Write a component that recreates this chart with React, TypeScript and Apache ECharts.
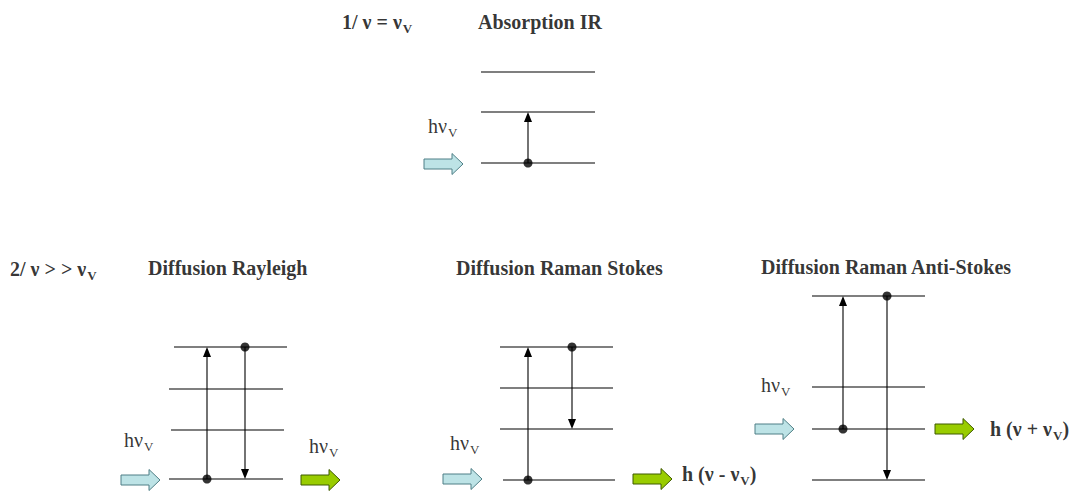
import React, { useEffect, useRef } from "react";
import * as echarts from "echarts";

// Energy levels: [xStart, xEnd, y]
const levels: number[][] = [
  [481, 595, 72], [481, 595, 112], [481, 595, 163],
  [174, 287, 347], [169, 283, 389], [171, 284, 430], [169, 283, 479],
  [500, 613, 347], [500, 613, 388], [500, 613, 429], [503, 615, 480],
  [812, 925, 296], [812, 925, 387], [812, 925, 429], [812, 925, 480],
];

// Transitions: [x, yFrom, yTo] (arrow head at yTo)
const transitions: number[][] = [
  [528, 163, 112],
  [207, 479, 347], [245, 347, 479],
  [528, 480, 347], [572, 347, 429],
  [843, 429, 296], [887, 296, 480],
];

// Dots (start of each transition): [x, y]
const dots: number[][] = [
  [528, 163],
  [207, 479], [245, 347],
  [528, 480], [572, 347],
  [843, 429], [887, 296],
];

// Photon block arrows: [xTail, yCenter, kind] kind 0 = incident, 1 = scattered
const photonArrows: number[][] = [
  [424, 164, 0],
  [121, 480, 0], [301, 480, 1],
  [443, 479, 0], [633, 479, 1],
  [755, 429, 0], [935, 429, 1],
];

// Labels: rich text strings and their anchor [xLeft, yCenter]
const labelTexts: string[] = [
  "{b|1/ ν = ν}{bs|V}",
  "{b|Absorption IR}",
  "{b|2/ ν > > ν}{bs|V}",
  "{b|Diffusion Rayleigh}",
  "{b|Diffusion Raman Stokes}",
  "{b|Diffusion Raman Anti-Stokes}",
  "{m|hν}{s|V}",
  "{m|hν}{s|V}",
  "{m|hν}{s|V}",
  "{m|hν}{s|V}",
  "{m|hν}{s|V}",
  "{b|h (ν - ν}{bs|V}{b|)}",
  "{b|h (ν + ν}{bs|V}{b|)}",
];
const labelAnchors: number[][] = [
  [342, 22], [478, 22],
  [10, 269], [148, 268], [456, 268], [761, 267],
  [428, 126], [124, 440], [309, 446], [450, 443], [761, 385],
  [682, 474], [990, 429],
];

const FONT = "'Liberation Serif', 'Times New Roman', serif";

export default function App() {
  const ref = useRef<HTMLDivElement>(null);
  useEffect(() => {
    if (!ref.current) return;
    const chart = echarts.init(ref.current, undefined, { renderer: "svg" });
    const arrowFill = ["#bde3e6", "#99cc00"];
    const arrowStroke = ["#4f7f86", "#3f5a00"];
    chart.setOption({
      animation: false,
      backgroundColor: "#ffffff",
      grid: { left: 0, right: 0, top: 0, bottom: 0 },
      xAxis: { type: "value", min: 0, max: 1071, show: false },
      yAxis: { type: "value", min: 0, max: 491, inverse: true, show: false },
      series: [
        {
          type: "custom",
          name: "levels",
          silent: true,
          clip: false,
          encode: { x: [0, 1], y: 2 },
          data: levels,
          renderItem: (_p: any, api: any) => {
            const a = api.coord([api.value(0), api.value(2)]);
            const b = api.coord([api.value(1), api.value(2)]);
            return {
              type: "line",
              shape: { x1: a[0], y1: a[1], x2: b[0], y2: b[1] },
              style: { stroke: "#000", lineWidth: 1.1 },
            };
          },
        },
        {
          type: "custom",
          name: "transitions",
          silent: true,
          clip: false,
          encode: { x: 0, y: [1, 2] },
          data: transitions,
          renderItem: (_p: any, api: any) => {
            const a = api.coord([api.value(0), api.value(1)]);
            const b = api.coord([api.value(0), api.value(2)]);
            const dir = b[1] > a[1] ? 1 : -1;
            const hh = 10;
            const hw = 4;
            return {
              type: "group",
              children: [
                {
                  type: "line",
                  shape: { x1: a[0], y1: a[1], x2: b[0], y2: b[1] - dir * hh },
                  style: { stroke: "#000", lineWidth: 1.1 },
                },
                {
                  type: "polygon",
                  shape: {
                    points: [
                      [b[0] - hw, b[1] - dir * hh],
                      [b[0] + hw, b[1] - dir * hh],
                      [b[0], b[1]],
                    ],
                  },
                  style: { fill: "#000" },
                },
              ],
            };
          },
        },
        {
          type: "scatter",
          name: "dots",
          silent: true,
          symbol: "circle",
          symbolSize: 9,
          itemStyle: { color: "#000" },
          data: dots,
          z: 5,
        },
        {
          type: "custom",
          name: "photons",
          silent: true,
          clip: false,
          encode: { x: 0, y: 1 },
          data: photonArrows,
          renderItem: (_p: any, api: any) => {
            const p = api.coord([api.value(0), api.value(1)]);
            const k = api.value(2);
            const x = p[0];
            const y = p[1];
            const neck = 28;
            const len = 39;
            const bh = 5;
            const hh = 10.5;
            return {
              type: "polygon",
              shape: {
                points: [
                  [x, y - bh],
                  [x + neck, y - bh],
                  [x + neck, y - hh],
                  [x + len, y],
                  [x + neck, y + hh],
                  [x + neck, y + bh],
                  [x, y + bh],
                ],
              },
              style: { fill: arrowFill[k], stroke: arrowStroke[k], lineWidth: 1 },
            };
          },
        },
        {
          type: "scatter",
          name: "labels",
          silent: true,
          symbolSize: 0,
          itemStyle: { color: "transparent" },
          data: labelAnchors.map((p, i) => ({
            value: p,
            label: { formatter: labelTexts[i] },
          })),
          label: {
            show: true,
            position: "right",
            distance: 0,
            color: "#000",
            fontFamily: FONT,
            rich: {
              b: { fontFamily: FONT, fontSize: 20, fontWeight: "bold", lineHeight: 20, verticalAlign: "bottom", color: "#000" },
              bs: { fontFamily: FONT, fontSize: 13, fontWeight: "bold", lineHeight: 20, verticalAlign: "top", padding: [10, 0, 0, 1], color: "#000" },
              m: { fontFamily: FONT, fontSize: 20, lineHeight: 20, verticalAlign: "bottom", color: "#000" },
              s: { fontFamily: FONT, fontSize: 13, lineHeight: 20, verticalAlign: "top", padding: [10, 0, 0, 1], color: "#000" },
            },
          },
        },
      ],
    });
    return () => chart.dispose();
  }, []);
  return (
    <div
      ref={ref}
      style={{ position: "absolute", left: 0, top: 0, width: 1071, height: 491 }}
    />
  );
}
